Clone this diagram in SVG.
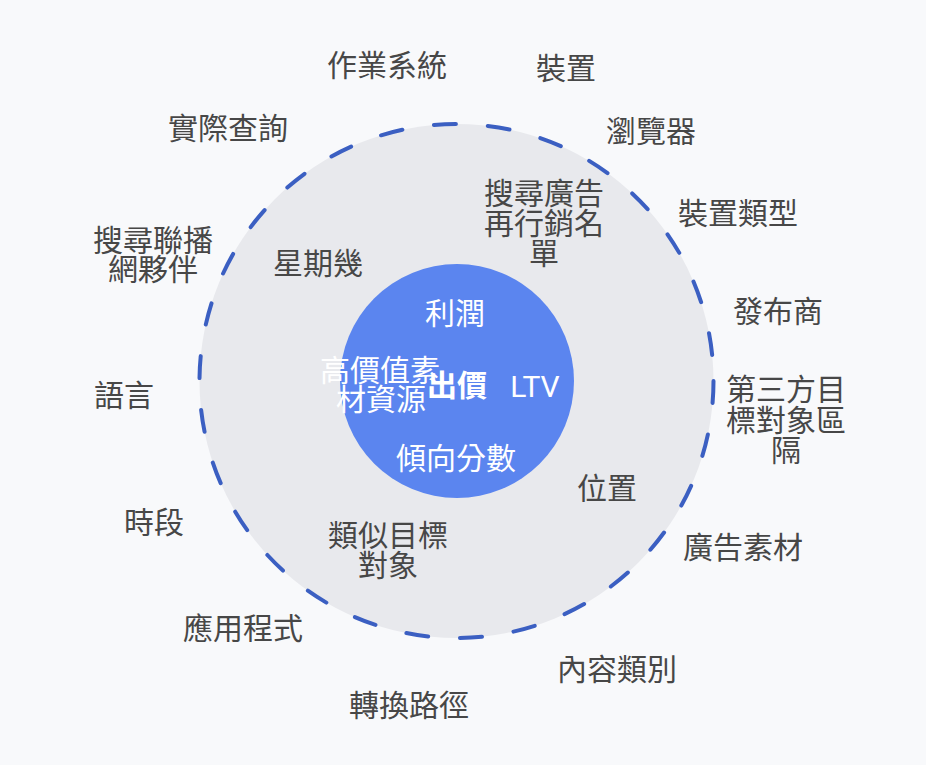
<svg xmlns="http://www.w3.org/2000/svg" width="926" height="765" viewBox="0 0 926 765">
<style>
  .t { font-family: "Noto Sans CJK TC", "Noto Sans CJK SC", sans-serif; font-size: 30px; fill: #474747; text-anchor: middle; }
  .w { font-family: "Roboto", "Noto Sans CJK TC", sans-serif; font-size: 30px; fill: #ffffff; text-anchor: middle; }
  .b { font-weight: bold; }
</style>
<rect x="0" y="0" width="926" height="765" fill="#f8f9fb"/>
<g id="outer-ring">
  <circle cx="456.5" cy="381" r="257" fill="#e8e9ed" stroke="#3b5fc2" stroke-width="4" stroke-dasharray="22 32" stroke-linecap="round"/>
</g>
<g id="core">
  <circle cx="457" cy="381" r="117" fill="#5b85ef"/>
</g>
<g id="connectors"/>
<g id="n-os"><text class="t" x="387" y="76">作業系統</text></g>
<g id="n-device"><text class="t" x="566" y="79">裝置</text></g>
<g id="n-browser"><text class="t" x="651" y="142">瀏覽器</text></g>
<g id="n-query"><text class="t" x="228" y="139">實際查詢</text></g>
<g id="n-partners"><text class="t" x="153" y="251">搜尋聯播</text><text class="t" x="153" y="280">網夥伴</text></g>
<g id="n-weekday"><text class="t" x="318" y="274">星期幾</text></g>
<g id="n-rlsa"><text class="t" x="544" y="204">搜尋廣告</text><text class="t" x="544" y="234">再行銷名</text><text class="t" x="544" y="264">單</text></g>
<g id="n-devtype"><text class="t" x="738" y="224">裝置類型</text></g>
<g id="n-publisher"><text class="t" x="778" y="322">發布商</text></g>
<g id="n-3p"><text class="t" x="786" y="400">第三方目</text><text class="t" x="786" y="431">標對象區</text><text class="t" x="786" y="461">隔</text></g>
<g id="n-language"><text class="t" x="124" y="406">語言</text></g>
<g id="n-daypart"><text class="t" x="154" y="533">時段</text></g>
<g id="n-app"><text class="t" x="243" y="639">應用程式</text></g>
<g id="n-similar"><text class="t" x="388" y="546">類似目標</text><text class="t" x="388" y="576">對象</text></g>
<g id="n-location"><text class="t" x="607" y="499">位置</text></g>
<g id="n-creative"><text class="t" x="743" y="558">廣告素材</text></g>
<g id="n-content"><text class="t" x="617" y="680">內容類別</text></g>
<g id="n-path"><text class="t" x="409" y="716">轉換路徑</text></g>
<g id="n-profit"><text class="w" x="455" y="324">利潤</text></g>
<g id="n-assets"><text class="w" x="380" y="381">高價值素</text><text class="w" x="381" y="410">材資源</text></g>
<g id="n-bid"><text class="w b" x="457" y="396">出價</text></g>
<g id="n-ltv"><text class="w" x="535" y="397">LTV</text></g>
<g id="n-propensity"><text class="w" x="456" y="469">傾向分數</text></g>
</svg>
